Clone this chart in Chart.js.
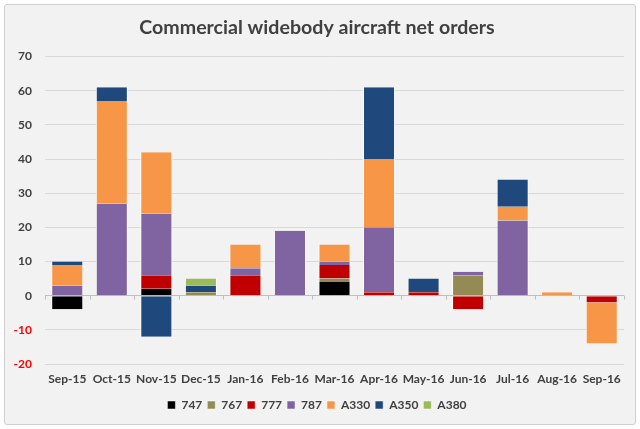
<!DOCTYPE html>
<html lang="en">
<head>
  <meta charset="UTF-8">
  <title>Commercial widebody aircraft net orders</title>
  <script src="https://cdn.jsdelivr.net/npm/chart.js"></script>
  <style>
    * { margin: 0; padding: 0; box-sizing: border-box; }
    body { width: 640px; height: 429px; background: #ffffff; position: relative; overflow: hidden; }
    #frame {
      position: absolute; left: 4px; top: 4px; width: 632px; height: 421px;
      background: #f2f2f2; border: 1px solid #cfcfcf; border-radius: 3px;
    }
    canvas { position: absolute; left: 0; top: 0; }
  </style>
</head>
<body>
  <div id="frame"></div>
  <canvas id="ordersChart" width="640" height="429"></canvas>

  <script>
    const months = ['Sep-15', 'Oct-15', 'Nov-15', 'Dec-15', 'Jan-16', 'Feb-16', 'Mar-16',
                    'Apr-16', 'May-16', 'Jun-16', 'Jul-16', 'Aug-16', 'Sep-16'];
    const b747  = [-4, null, 2, null, null, null, 4, null, null, null, null, null, null];
    const b767  = [null, null, null, 1, null, null, 1, null, null, 6, null, null, null];
    const b777  = [null, null, 4, null, 6, null, 4, 1, 1, -4, null, null, -2];
    const b787  = [3, 27, 18, null, 2, 19, 1, 19, null, 1, 22, null, null];
    const a330  = [6, 30, 18, null, 7, null, 5, 20, null, null, 4, 1, -12];
    const a350  = [1, 4, -12, 2, null, null, null, 21, 4, null, 8, null, null];
    const a380  = [null, null, null, 2, null, null, null, null, null, null, null, null, null];
    const yTicks = [-20, -10, 0, 10, 20, 30, 40, 50, 60, 70];

    const textColor = '#404040';
    const font = 'Lato';

    // small tick marks on the zero line between the months
    const zeroTicks = {
      id: 'zeroTicks',
      afterDatasetsDraw(chart) {
        const x = chart.scales.x, y = chart.scales.y;
        const y0 = y.getPixelForValue(0);
        const ctx = chart.ctx;
        ctx.save();
        ctx.strokeStyle = '#bfbfbf';
        ctx.lineWidth = 1;
        ctx.beginPath();
        for (let i = 0; i <= months.length; i++) {
          const px = Math.round(x.left + (x.right - x.left) * i / months.length) + 0.5;
          ctx.moveTo(px, y0);
          ctx.lineTo(px, y0 + 4);
        }
        ctx.stroke();
        ctx.restore();
      }
    };

    const series = [
      ['747', b747, '#000000'],
      ['767', b767, '#948a54'],
      ['777', b777, '#c00000'],
      ['787', b787, '#8064a2'],
      ['A330', a330, '#f79646'],
      ['A350', a350, '#1f497d'],
      ['A380', a380, '#9bbb59']
    ];

    new Chart(document.getElementById('ordersChart'), {
      type: 'bar',
      data: {
        labels: months,
        datasets: series.map(([label, values, color]) => ({
          label: label,
          data: values,
          backgroundColor: color,
          borderColor: '#ffffff',
          borderWidth: { left: 1, right: 1, top: 0, bottom: 0 },
          borderSkipped: false,
          categoryPercentage: 1,
          barPercentage: 0.72
        }))
      },
      options: {
        responsive: false,
        animation: false,
        layout: { padding: { left: 10, right: 16, top: 0, bottom: 8 } },
        plugins: {
          title: {
            display: true,
            text: 'Commercial widebody aircraft net orders',
            color: textColor,
            font: { family: font, size: 19.6, weight: 'bold' },
            padding: { top: 16, bottom: 17 }
          },
          legend: {
            position: 'bottom',
            labels: {
              boxWidth: 8,
              boxHeight: 8,
              padding: 5,
              color: textColor,
              font: { family: font, size: 12, weight: 'bold' }
            }
          },
          tooltip: { enabled: false }
        },
        scales: {
          x: {
            stacked: true,
            grid: { display: false, drawTicks: false },
            border: { display: false },
            ticks: {
              color: textColor,
              padding: 8,
              autoSkip: false,
              maxRotation: 0,
              font: { family: font, size: 12, weight: 'bold' }
            },
            afterFit: scale => { scale.height = 30; }
          },
          y: {
            stacked: true,
            min: yTicks[0],
            max: yTicks[yTicks.length - 1],
            afterBuildTicks: scale => { scale.ticks = yTicks.map(v => ({ value: v })); },
            grid: {
              color: ctx => ctx.tick && ctx.tick.value === 0 ? '#bfbfbf' : '#d9d9d9',
              drawTicks: false
            },
            border: { display: false },
            ticks: {
              padding: 13,
              color: ctx => ctx.tick.value < 0 ? '#ff0000' : textColor,
              font: { family: font, size: 12, weight: 'bold' }
            },
            afterFit: scale => { scale.width = 35; }
          }
        }
      },
      plugins: [zeroTicks]
    });
  </script>
</body>
</html>
